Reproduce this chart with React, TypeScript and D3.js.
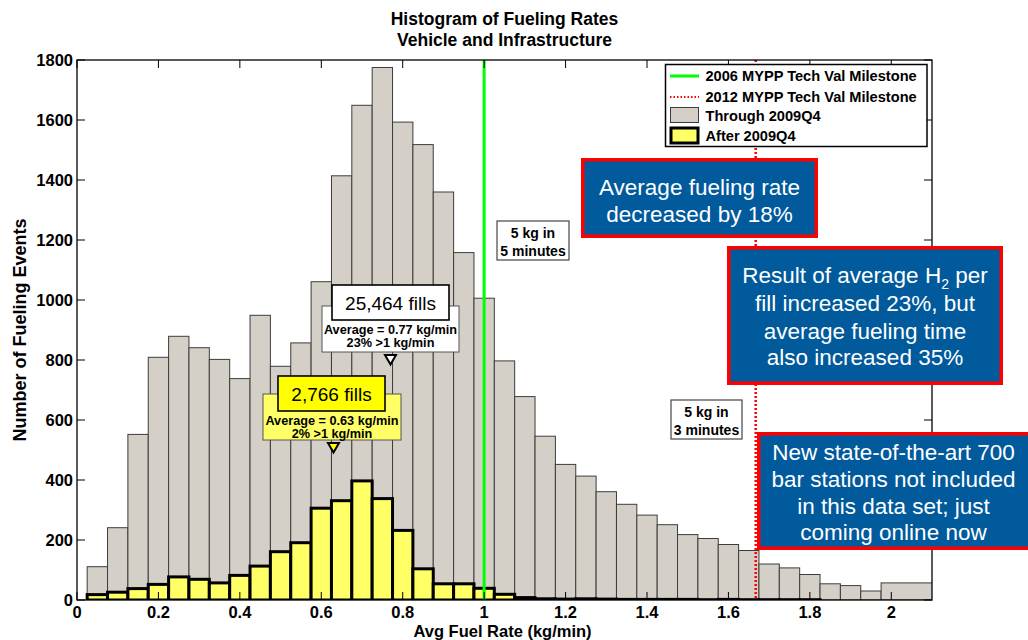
import React, { useEffect, useRef } from 'react';
import * as d3 from 'd3';

// histogram bin centres (kg/min); last bin collects everything >= 1.975
const binCenters = [
  0.05, 0.1, 0.15, 0.2, 0.25, 0.3, 0.35, 0.4, 0.45, 0.5,
  0.55, 0.6, 0.65, 0.7, 0.75, 0.8, 0.85, 0.9, 0.95, 1.0,
  1.05, 1.1, 1.15, 1.2, 1.25, 1.3, 1.35, 1.4, 1.45, 1.5,
  1.55, 1.6, 1.65, 1.7, 1.75, 1.8, 1.85, 1.9, 1.95, 2.0,
];
// Through 2009Q4
const throughCounts = [
  111, 241, 552, 809, 879, 841, 802, 738, 949, 779,
  857, 1061, 1414, 1649, 1775, 1593, 1518, 1360, 1158, 1006,
  797, 678, 546, 452, 413, 361, 319, 283, 251, 218,
  205, 185, 165, 120, 107, 85, 54, 48, 30, 57,
];
// After 2009Q4
const afterCounts = [
  18, 26, 38, 52, 77, 69, 57, 82, 113, 161,
  191, 306, 331, 397, 338, 232, 104, 54, 54, 39,
  19, 8, 4, 3, 4, 3, 2, 2, 2, 2,
  1, 2, 1, 1, 1, 1, 0, 0, 0, 0,
];
const binWidth = 0.05;

const xTicks = [0, 0.2, 0.4, 0.6, 0.8, 1, 1.2, 1.4, 1.6, 1.8, 2];
const yTicks = [0, 200, 400, 600, 800, 1000, 1200, 1400, 1600, 1800];

const milestone2006 = 1.0; // 5 kg in 5 minutes
const milestone2012 = 1.667; // 5 kg in 3 minutes

const legendLabels = [
  '2006 MYPP Tech Val Milestone',
  '2012 MYPP Tech Val Milestone',
  'Through 2009Q4',
  'After 2009Q4',
];

const blueNotes = [
  { lines: ['Average fueling rate', 'decreased by 18%'], box: [581, 158, 818, 238], ty: [187, 213.5] },
  { lines: ['Result of average H|2| per', 'fill increased 23%, but', 'average fueling time', 'also increased 35%'], box: [727, 246, 1003, 385], ty: [275, 303, 330.5, 357] },
  { lines: ['New state-of-the-art 700', 'bar stations not included', 'in this data set; just', 'coming online now'], box: [757, 432, 1032, 550], ty: [452, 478.5, 505.5, 532] },
];

const FONT = '"Liberation Sans", Arial, Helvetica, sans-serif';
const W = 1028, H = 640;
const margin = { left: 77, right: 96, top: 60, bottom: 40 };

export default function App() {
  const svgRef = useRef<SVGSVGElement>(null);

  useEffect(() => {
    const svg = d3.select(svgRef.current);
    svg.selectAll('*').remove();

    const x = d3.scaleLinear().domain([0, 2.1]).range([margin.left, W - margin.right]);
    const y = d3.scaleLinear().domain([0, 1800]).range([H - margin.bottom, margin.top]);
    const [x0, x1] = x.range();
    const [yb, yt] = y.range();

    svg.append('rect').attr('width', W).attr('height', H).attr('fill', 'white');

    // title
    svg.append('text').attr('x', (x0 + x1) / 2).attr('y', 25)
      .attr('text-anchor', 'middle').style('font', `bold 17.5px ${FONT}`)
      .text('Histogram of Fueling Rates');
    svg.append('text').attr('x', (x0 + x1) / 2).attr('y', 46)
      .attr('text-anchor', 'middle').style('font', `bold 17.5px ${FONT}`)
      .text('Vehicle and Infrastructure');

    svg.append('clipPath').attr('id', 'plotclip')
      .append('rect').attr('x', x0).attr('y', yt).attr('width', x1 - x0).attr('height', yb - yt);

    const plot = svg.append('g').attr('clip-path', 'url(#plotclip)');

    const last = binCenters.length - 1;
    // gray bars
    plot.selectAll('.through')
      .data(binCenters)
      .enter()
      .append('rect')
      .attr('class', 'through')
      .attr('x', d => x(d - binWidth / 2))
      .attr('width', (d, i) => (i === last ? x(2.3) : x(d + binWidth / 2)) - x(d - binWidth / 2))
      .attr('y', (d, i) => y(throughCounts[i]))
      .attr('height', (d, i) => yb - y(throughCounts[i]))
      .style('fill', '#d4d0c8')
      .style('stroke', '#3c3c3c')
      .style('stroke-width', 1);

    // yellow bars
    plot.selectAll('.after')
      .data(binCenters)
      .enter()
      .append('rect')
      .attr('class', 'after')
      .attr('x', d => x(d - binWidth / 2))
      .attr('width', x(binWidth) - x(0))
      .attr('y', (d, i) => y(afterCounts[i]))
      .attr('height', (d, i) => yb - y(afterCounts[i]))
      .style('fill', '#ffff66')
      .style('stroke', 'black')
      .style('stroke-width', 3);

    // milestones
    plot.append('line')
      .attr('x1', x(milestone2006)).attr('x2', x(milestone2006))
      .attr('y1', yt).attr('y2', yb)
      .style('stroke', '#00ff00').style('stroke-width', 3);
    plot.append('line')
      .attr('x1', x(milestone2012)).attr('x2', x(milestone2012))
      .attr('y1', yt).attr('y2', yb)
      .style('stroke', '#ff0000').style('stroke-width', 2.5)
      .style('stroke-dasharray', '2,2');

    // axes box + inward ticks
    const tl = 8;
    const axes = svg.append('g');
    axes.append('rect').attr('x', x0).attr('y', yt).attr('width', x1 - x0).attr('height', yb - yt)
      .style('fill', 'none').style('stroke', 'black').style('stroke-width', 1.3);
    xTicks.forEach(t => {
      axes.append('line').attr('x1', x(t)).attr('x2', x(t)).attr('y1', yb).attr('y2', yb - tl)
        .style('stroke', 'black');
      axes.append('line').attr('x1', x(t)).attr('x2', x(t)).attr('y1', yt).attr('y2', yt + tl)
        .style('stroke', 'black');
      axes.append('text').attr('x', x(t)).attr('y', 617.5).attr('text-anchor', 'middle')
        .style('font', `bold 16.5px ${FONT}`).text(d3.format('~g')(t));
    });
    yTicks.forEach(t => {
      axes.append('line').attr('x1', x0).attr('x2', x0 + tl).attr('y1', y(t)).attr('y2', y(t))
        .style('stroke', 'black');
      axes.append('line').attr('x1', x1).attr('x2', x1 - tl).attr('y1', y(t)).attr('y2', y(t))
        .style('stroke', 'black');
      axes.append('text').attr('x', x0 - 4).attr('y', y(t)).attr('dy', '0.36em')
        .attr('text-anchor', 'end').style('font', `bold 16.5px ${FONT}`).text(t);
    });
    axes.append('text').attr('x', (x0 + x1) / 2 - 2).attr('y', 636.5)
      .attr('text-anchor', 'middle').style('font', `bold 16.5px ${FONT}`)
      .text('Avg Fuel Rate (kg/min)');
    axes.append('text').attr('transform', `translate(26,${(yt + yb) / 2}) rotate(-90)`)
      .attr('text-anchor', 'middle').style('font', `bold 18px ${FONT}`)
      .text('Number of Fueling Events');

    // legend
    const lg = svg.append('g');
    lg.append('rect').attr('x', 665.5).attr('y', 64.5).attr('width', 261.5).attr('height', 82)
      .style('fill', 'white').style('stroke', 'black').style('stroke-width', 1.5);
    const rowY = [76, 97, 115.5, 135.5];
    lg.append('line').attr('x1', 670).attr('x2', 699).attr('y1', rowY[0]).attr('y2', rowY[0])
      .style('stroke', '#00ff00').style('stroke-width', 3);
    lg.append('line').attr('x1', 670).attr('x2', 699).attr('y1', rowY[1]).attr('y2', rowY[1])
      .style('stroke', '#ff0000').style('stroke-width', 2).style('stroke-dasharray', '1.5,2');
    lg.append('rect').attr('x', 670.5).attr('y', 107.5).attr('width', 28).attr('height', 15)
      .style('fill', '#d4d0c8').style('stroke', '#3c3c3c');
    lg.append('rect').attr('x', 671).attr('y', 128).attr('width', 27).attr('height', 15)
      .style('fill', '#ffff66').style('stroke', 'black').style('stroke-width', 3);
    legendLabels.forEach((l, i) => {
      lg.append('text').attr('x', 705.5).attr('y', rowY[i]).attr('dy', '0.36em')
        .style('font', `bold 14.6px ${FONT}`).text(l);
    });

    // small white milestone notes
    const smallNote = (bx: number[], lines: string[]) => {
      svg.append('rect').attr('x', bx[0]).attr('y', bx[1]).attr('width', bx[2] - bx[0]).attr('height', bx[3] - bx[1])
        .style('fill', 'white').style('stroke', '#444').style('stroke-width', 1.2);
      lines.forEach((t, i) => {
        svg.append('text').attr('x', (bx[0] + bx[2]) / 2).attr('y', bx[1] + 11.5 + i * 18).attr('dy', '0.36em')
          .attr('text-anchor', 'middle').style('font', `bold 14px ${FONT}`).text(t);
      });
    };
    smallNote([497, 221, 569, 260], ['5 kg in', '5 minutes']);
    smallNote([671, 400, 742, 439], ['5 kg in', '3 minutes']);

    // fill-count callouts
    const callout = (cx: number, big: string, small: string[], upper: number[], lower: number[], fillU: string, fillL: string, triFill: string) => {
      svg.append('rect').attr('x', lower[0]).attr('y', lower[1]).attr('width', lower[2] - lower[0]).attr('height', lower[3] - lower[1])
        .style('fill', fillL).style('stroke', '#555').style('stroke-width', 1);
      svg.append('rect').attr('x', upper[0]).attr('y', upper[1]).attr('width', upper[2] - upper[0]).attr('height', upper[3] - upper[1])
        .style('fill', fillU).style('stroke', 'black').style('stroke-width', 1.6);
      svg.append('text').attr('x', (upper[0] + upper[2]) / 2).attr('y', (upper[1] + upper[3]) / 2 + 0.5).attr('dy', '0.36em')
        .attr('text-anchor', 'middle').style('font', `19px ${FONT}`).text(big);
      small.forEach((t, i) => {
        svg.append('text').attr('x', (lower[0] + lower[2]) / 2).attr('y', upper[3] + 9.5 + i * 13).attr('dy', '0.36em')
          .attr('text-anchor', 'middle').style('font', `bold 12.7px ${FONT}`).text(t);
      });
      const ty = lower[3] + 3;
      svg.append('path')
        .attr('d', `M${cx - 5.5},${ty} L${cx + 5.5},${ty} L${cx},${ty + 9.5} Z`)
        .style('fill', triFill).style('stroke', 'black').style('stroke-width', 2);
    };
    callout(x(0.77), '25,464 fills', ['Average = 0.77 kg/min', '23% >1 kg/min'],
      [332, 285, 449, 320], [322, 306, 459, 352], 'white', 'white', 'white');
    callout(x(0.63), '2,766 fills', ['Average = 0.63 kg/min', '2% >1 kg/min'],
      [278, 376, 385, 411], [263, 394, 401, 440], '#ffff00', '#ffff66', '#ffff00');

    // blue text boxes
    blueNotes.forEach(n => {
      const [bx0, by0, bx1, by1] = n.box;
      svg.append('rect').attr('x', bx0 + 1.75).attr('y', by0 + 1.75)
        .attr('width', bx1 - bx0 - 3.5).attr('height', by1 - by0 - 3.5)
        .style('fill', '#005a9c').style('stroke', '#ff0000').style('stroke-width', 3.5);
      n.lines.forEach((l, i) => {
        const t = svg.append('text').attr('x', (bx0 + Math.min(bx1, 1030)) / 2).attr('y', n.ty[i]).attr('dy', '0.36em')
          .attr('text-anchor', 'middle').style('font', `22.5px ${FONT}`).style('fill', 'white');
        const parts = l.split('|');
        if (parts.length === 1) {
          t.text(l);
        } else {
          t.append('tspan').text(parts[0]);
          t.append('tspan').attr('dy', 6).style('font-size', '14px').text(parts[1]);
          t.append('tspan').attr('dy', -6).text(parts[2]);
        }
      });
    });
  }, []);

  return (
    <svg ref={svgRef} width={W} height={H}
      style={{ position: 'absolute', left: 0, top: 0, display: 'block' }} />
  );
}
